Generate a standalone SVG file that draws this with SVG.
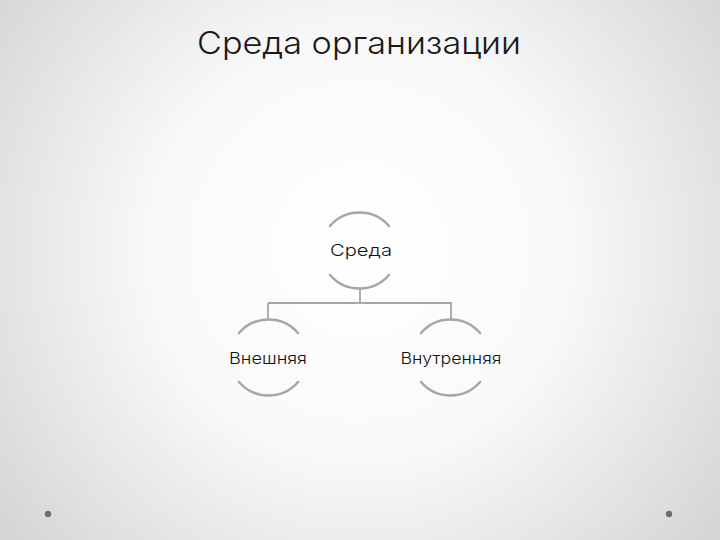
<svg xmlns="http://www.w3.org/2000/svg" width="720" height="540" viewBox="0 0 720 540">
<defs>
<radialGradient id="bg" cx="360" cy="250" r="460" gradientUnits="userSpaceOnUse">
<stop offset="0" stop-color="#ffffff"/>
<stop offset="0.45" stop-color="#f9f9f9"/>
<stop offset="1" stop-color="#d4d4d4"/>
</radialGradient>
<style>
.arc{fill:none;stroke:#a6a6a6;stroke-width:2.5;stroke-linecap:round}
.ln{fill:none;stroke:#a6a6a6;stroke-width:1.8}
.lbl{font-family:Inter,"Open Sans","Liberation Sans",sans-serif;font-weight:300;font-size:16.5px;fill:#111;text-anchor:middle}
.title{font-family:Inter,"Open Sans","Liberation Sans",sans-serif;font-weight:300;font-size:31px;fill:#1a1a1a;text-anchor:middle}
.dot{fill:#6e6e6e}
</style>
</defs>
<rect width="720" height="540" fill="url(#bg)"/>
<text class="title" x="359" y="54" textLength="324" lengthAdjust="spacingAndGlyphs">Среда организации</text>
<g id="connectors">
<path class="ln" d="M360 289 V303 M268 303 H452 M268 303 V319 M451 303 V319"/>
</g>
<g id="node-sreda">
<path class="arc" d="M330 226 A39 39 0 0 1 389 226"/>
<path class="arc" d="M330 275 A39 39 0 0 0 389 275"/>
<text class="lbl" x="361" y="256" textLength="62" lengthAdjust="spacingAndGlyphs">Среда</text>
</g>
<g id="node-vneshnyaya">
<path class="arc" d="M239 333 A39 39 0 0 1 298 333"/>
<path class="arc" d="M239 382 A39 39 0 0 0 298 382"/>
<text class="lbl" x="268" y="364" textLength="78" lengthAdjust="spacingAndGlyphs">Внешняя</text>
</g>
<g id="node-vnutrennyaya">
<path class="arc" d="M421 333 A39 39 0 0 1 480 333"/>
<path class="arc" d="M421 382 A39 39 0 0 0 480 382"/>
<text class="lbl" x="451" y="364" textLength="101" lengthAdjust="spacingAndGlyphs">Внутренняя</text>
</g>
<circle class="dot" cx="48" cy="514" r="3.2"/>
<circle class="dot" cx="669" cy="514" r="3.2"/>
</svg>
